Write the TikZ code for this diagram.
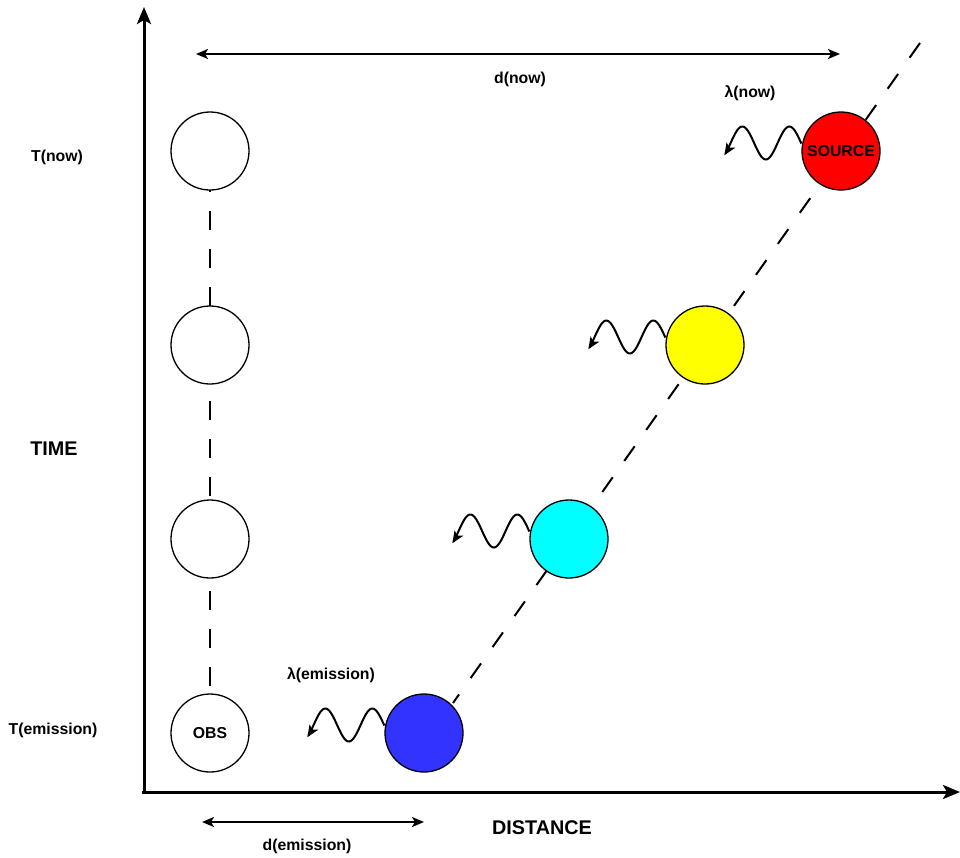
\documentclass[tikz,border=0pt]{standalone}
\usepackage{fontspec}
\setmainfont{Liberation Sans}
\usetikzlibrary{arrows.meta,backgrounds}
\definecolor{srcred}{RGB}{255,0,0}
\definecolor{srcyellow}{RGB}{255,255,0}
\definecolor{srccyan}{RGB}{0,255,255}
\definecolor{srcblue}{RGB}{51,51,255}
\tikzset{
  ball/.style={circle, draw=black, line width=1.3pt, minimum size=78pt, inner sep=0pt, font=\bfseries\fontsize{15.8}{17}\selectfont},
  lbl/.style={font=\bfseries\fontsize{15.8}{17}\selectfont, inner sep=0pt},
  biglbl/.style={font=\bfseries\fontsize{19.8}{21}\selectfont, inner sep=0pt},
  axis/.style={line width=3pt, -{Stealth[length=17pt,width=14pt,inset=4pt]}},
  dimarrow/.style={line width=2pt, {Stealth[length=12pt,width=10pt,inset=3pt]}-{Stealth[length=12pt,width=10pt,inset=3pt]}},
  trackdash/.style={line width=2pt, dash pattern=on 19pt off 19pt},
  wavy/.style={line width=2pt, -{Stealth[length=12pt,width=10pt,inset=3pt]}},
  pics/wave/.style={code={
    \draw[wavy] plot[domain=0:77,samples=60,smooth] ({-\x},{-8-16.5*cos(7.6596*(\x-12))});
  }}
}
\begin{document}
\begin{tikzpicture}[x=1pt,y=-1pt]
\useasboundingbox (0,0) rectangle (960,857);
% axes
\coordinate (origin) at (144,792);
\coordinate (ytop) at (144,7);
\coordinate (xstart) at (142,792);
\coordinate (xend) at (960,792);
\draw[axis] (origin) -- (ytop);
\draw[axis] (xstart) -- (xend);
% observer circles
\node[ball, fill=white] (obs1) at (210,151) {};
\node[ball, fill=white] (obs2) at (210,345) {};
\node[ball, fill=white] (obs3) at (210,539) {};
\node[ball, fill=white] (obs4) at (210,733) {OBS};
% source circles
\node[ball, fill=srcred] (src1) at (841,151) {SOURCE};
\node[ball, fill=srcyellow] (src2) at (705,345) {};
\node[ball, fill=srccyan] (src3) at (569,539) {};
\node[ball, fill=srcblue] (src4) at (424,733) {};
% dashed tracks behind circles
\coordinate (dtop) at (920,43);
\coordinate (dend) at (453,703);
\begin{pgfonlayer}{background}
  \draw[trackdash, dash phase=16pt] (obs1.center) -- (obs4.center);
  \draw[line width=2pt, dash pattern=on 18pt off 20pt] (dtop) -- (dend);
\end{pgfonlayer}
% waves
\pic at (src1.west) {wave};
\pic at (src2.west) {wave};
\pic at (src3.west) {wave};
\pic at (src4.west) {wave};
% dimension arrows
\coordinate (dnowL) at (196,54);
\coordinate (dnowR) at (840,54);
\draw[dimarrow] (dnowL) -- (dnowR);
\coordinate (demL) at (202,822);
\coordinate (demR) at (424,822);
\draw[dimarrow] (demL) -- (demR);
% labels
\node[lbl] (ldnow) at (520,79) {d(now)};
\node[lbl] (ldem) at (307,846) {d(emission)};
\node[lbl] (llnow) at (750,93) {λ(now)};
\node[lbl] (llem) at (331,675) {λ(emission)};
\node[lbl] (ltnow) at (57,157) {T(now)};
\node[lbl] (ltem) at (53,730) {T(emission)};
\node[biglbl] (ltime) at (54,449) {TIME};
\node[biglbl] (ldist) at (542,828) {DISTANCE};
\end{tikzpicture}
\end{document}
